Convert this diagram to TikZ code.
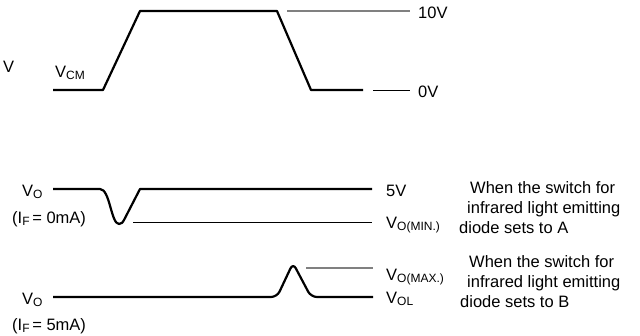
\documentclass[tikz,border=0pt]{standalone}
\usepackage{fontspec}
\setmainfont{Liberation Sans}
\usepackage{tikz}
\tikzstyle{waveline} = [draw=black, line width=2.2pt, line join=round]
\tikzstyle{refline} = [draw=black, line width=1pt]
\tikzstyle{greyline} = [draw=black!50, line width=1.2pt]
\tikzstyle{lbl} = [inner sep=0, anchor=base west,
    font=\fontsize{16.5}{20}\selectfont]
\newcommand{\lowsub}[1]{\raisebox{-0.3ex}{\fontsize{12}{12}\selectfont #1}}

\begin{document}
\begin{tikzpicture}[x=1pt, y=-1pt]
\useasboundingbox (0,0) rectangle (640,335);
% input pulse
\draw[waveline] (53,90) -- (103,90) -- (140,11) -- (277,11) -- (311,90) -- (363,90);
\draw[greyline] (287,11) -- (410,11);
\draw[refline] (373,90) -- (410,90);
\node[lbl] (tenV) at (418,18) {10V};
\node[lbl] (zeroV) at (418,97) {0V};
\node[lbl] (vin) at (3,72) {V};
\node[lbl] (vcm) at (55,77) {V\lowsub{CM}};
% output, switch at A
\draw[waveline] (53,189) -- (100,189) .. controls (110,189) and (111,224) .. (119,224)
    .. controls (122,224) and (123,222) .. (124,220) -- (140,189) -- (372,189);
\draw[refline] (133,222) -- (372,222);
\node[lbl] (voA) at (22,196) {V\lowsub{O}};
\node[lbl] (ifA) at (12,223) {(I\lowsub{F}\,= 0mA)};
\node[lbl] (fiveV) at (386,196) {5V};
\node[lbl] (vomin) at (386,228) {V\lowsub{O(MIN.)}};
\node[lbl, align=left] (noteA) at (459,233)
    {\hspace*{11pt}When the switch for\\\hspace*{8pt}infrared light emitting\\diode sets to A};
% output, switch at B
\draw[waveline, rounded corners=6pt] (53,297) -- (277,297) -- (293,263) -- (311,297) -- (373,297);
\draw[greyline] (306,268) -- (373,268);
\node[lbl] (voB) at (22,304) {V\lowsub{O}};
\node[lbl] (ifB) at (12,330) {(I\lowsub{F}\,= 5mA)};
\node[lbl] (vomax) at (386,280) {V\lowsub{O(MAX.)}};
\node[lbl] (vol) at (386,303) {V\lowsub{OL}};
\node[lbl, align=left] (noteB) at (460,307)
    {\hspace*{9pt}When the switch for\\\hspace*{7pt}infrared light emitting\\diode sets to B};
\end{tikzpicture}
\end{document}
